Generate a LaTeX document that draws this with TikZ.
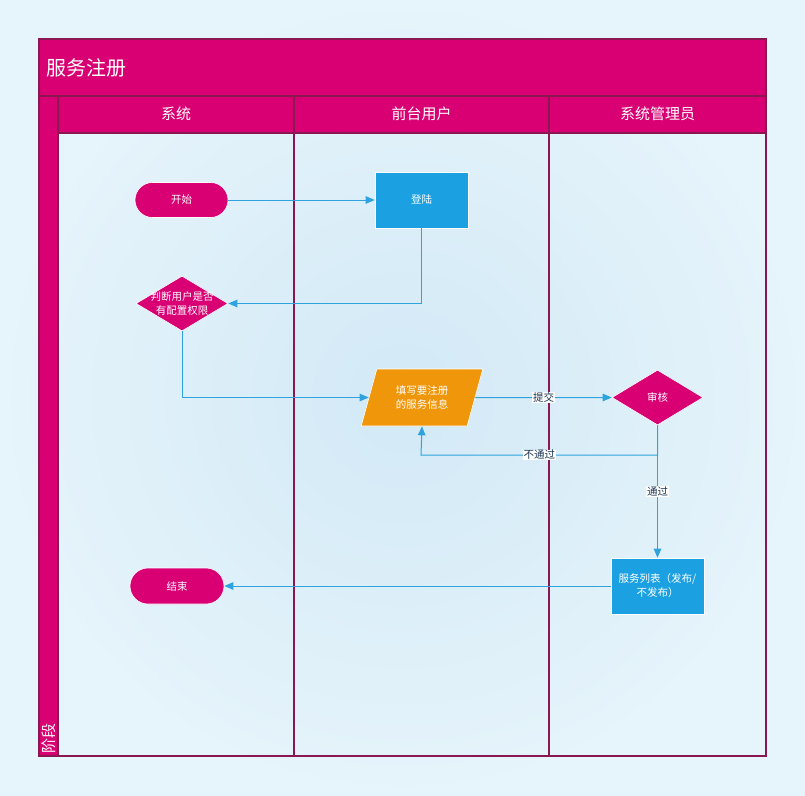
\documentclass[tikz,border=0pt]{standalone}
\usepackage{fontspec}
\setmainfont{Noto Sans CJK SC}
\usetikzlibrary{shapes.geometric,arrows.meta,calc}

\definecolor{mag}{HTML}{D80073}
\definecolor{magline}{HTML}{8A1652}
\definecolor{boxblue}{HTML}{1BA1E2}
\definecolor{edgeblue}{HTML}{2FA3DD}
\definecolor{orng}{HTML}{F0960A}
\definecolor{bgout}{HTML}{E6F4FB}
\definecolor{bgin}{HTML}{D2E9F6}
\definecolor{labeltext}{HTML}{1C3550}

\tikzset{
  poolline/.style={draw=magline, line width=1.1pt},
  hdr/.style={text=white, font=\fontsize{15}{18}\selectfont},
  nodetxt/.style={text=white, font=\fontsize{10.5}{14}\selectfont, align=center},
  terminal/.style={nodetxt, draw=white, line width=0.6pt, fill=mag, rounded corners=17.5pt,
    minimum width=93pt, minimum height=35pt, inner sep=0pt},
  procbox/.style={nodetxt, draw=white, line width=0.6pt, fill=boxblue,
    minimum width=93pt, minimum height=56pt, inner sep=0pt},
  decision/.style={diamond, draw=white, line width=0.6pt, fill=mag,
    minimum width=92pt, minimum height=55pt, inner sep=0pt},
  iobox/.style={nodetxt, trapezium, trapezium left angle=69, trapezium right angle=111,
    trapezium stretches=true, draw=white, line width=0.6pt, fill=orng,
    minimum width=122pt, minimum height=57pt, inner sep=0pt},
  flow/.style={draw=edgeblue, line width=1pt, -{Triangle[length=9pt,width=7.5pt]}},
  elabel/.style={fill=white, text=labeltext, inner sep=0.6pt,
    font=\fontsize{10.5}{12}\selectfont},
}

\begin{document}
\begin{tikzpicture}[x=1pt, y=-1pt]
  % page background
  \shade[inner color=bgin, outer color=bgout] (0,0) rectangle (805,795);
  \useasboundingbox (0,0) rectangle (805,795);

  % pool: title band, header row and stage strip
  \fill[mag] (39,39) rectangle (766,133);
  \fill[mag] (39,96) rectangle (58,756);
  \draw[poolline] (39,96) -- (766,96);
  \draw[poolline] (58,133) -- (766,133);
  \draw[poolline] (58,96) -- (58,756);
  \draw[poolline] (294,96) -- (294,756);
  \draw[poolline] (549,96) -- (549,756);
  \draw[poolline] (39,39) rectangle (766,756);

  \node[anchor=west, text=white, font=\fontsize{20}{24}\selectfont] (title) at (43,68) {服务注册};
  \node[hdr] (lane1) at (176,114) {系统};
  \node[hdr] (lane2) at (421.5,114) {前台用户};
  \node[hdr] (lane3) at (657.5,114) {系统管理员};
  \node[rotate=90, anchor=west, text=white, font=\fontsize{15}{18}\selectfont, inner sep=1pt]
    (stage) at (48.5,755) {阶段};

  % flow nodes
  \node[terminal] (start) at (181.5,200) {开始};
  \node[procbox] (login) at (421.5,200) {登陆};
  \node[decision] (judge) at (182,303.5) {};
  \node[nodetxt] (judgetxt) at (judge) {判断用户是否\\有配置权限};
  \node[iobox] (fillin) at (422,397.5) {填写要注册\\的服务信息};
  \node[decision, minimum width=91pt] (review) at (657.5,397.5) {};
  \node[nodetxt] (reviewtxt) at (review) {审核};
  \node[procbox] (list) at (657.5,586) {服务列表（发布/\\不发布）};
  \node[terminal, minimum width=94pt, minimum height=36pt, rounded corners=18pt] (finish) at (177,586) {结束};

  % connectors
  \coordinate (back) at (421,455);
  \draw[flow] (start) -- (login);
  \draw[flow] (login.south) |- (judge.east);
  \draw[flow] (judge.south) |- (fillin.west);
  \draw[flow] (fillin.east) -- node[elabel] {提交} (review.west);
  \draw[flow] (review.south) |- node[pos=0.75, elabel] {不通过} (back) -- (fillin.south);
  \draw[flow] (review.south) -- node[elabel] {通过} (list.north);
  \draw[flow] (list.west) -- (finish.east);
\end{tikzpicture}
\end{document}
